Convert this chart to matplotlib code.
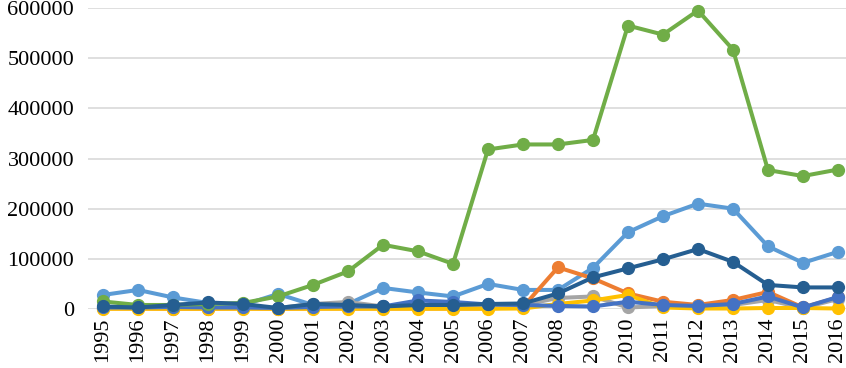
import matplotlib.pyplot as plt

plt.rcParams['font.family'] = ['Liberation Serif', 'DejaVu Serif']

years = [str(y) for y in range(1995, 2017)]

s1_lightblue = [28000, 38000, 23000, 12000, 8000, 30000, 8000, 10000, 42000, 33000, 25000,
                50000, 38000, 38000, 82000, 153000, 185000, 210000, 200000, 125000, 92000, 114000]
s2_orange = [1000, 1000, 500, 500, 1000, 500, 1000, 1000, 1000, 1000, 1000,
             1000, 4000, 83000, 61000, 31000, 14500, 8000, 18000, 34000, 3000, 23000]
s3_gray = [2000, 2000, 3000, 2000, 3000, 2000, 10000, 14000, 5000, 6000, 5000,
           6000, 8000, 22000, 25000, 3000, 6000, 5000, 8000, 18000, 2000, 20000]
s4_yellow = [500, 500, 500, 500, 500, 500, 500, 500, 500, 500, 500,
             500, 1000, 10000, 17000, 28000, 3000, 1000, 1000, 2000, 2000, 1000]
s5_blue = [3000, 3000, 4000, 3000, 3000, 2000, 4000, 5000, 5000, 17000, 14000,
           9000, 8000, 6000, 5000, 14500, 8000, 6000, 10000, 25000, 3000, 24000]
s6_green = [15000, 8000, 8000, 10000, 12000, 25000, 48000, 75000, 128000, 115000, 90000,
            318000, 328000, 328000, 337000, 565000, 547000, 595000, 517000, 277000, 265000, 278000]
s7_darkblue = [5000, 3000, 8000, 13000, 10000, 2000, 10000, 8000, 5000, 8000, 8000,
               10000, 11000, 31000, 63000, 81000, 99000, 119500, 94000, 48000, 43000, 43000]

series = [s1_lightblue, s2_orange, s3_gray, s4_yellow, s5_blue, s6_green, s7_darkblue]
colors = ['#5B9BD5', '#ED7D31', '#A5A5A5', '#FFC000', '#4472C4', '#70AD47', '#255E91']

fig = plt.figure(figsize=(8.46, 3.68), dpi=100)
ax = fig.add_axes([88 / 846, 1 - 309 / 368, (846 - 88) / 846, 301 / 368])

x = range(len(years))
for vals, c in zip(series, colors):
    ax.plot(x, vals, color=c, lw=2.9, marker='o', ms=8.5, mec=c, mfc=c,
            solid_capstyle='round', solid_joinstyle='round', clip_on=False)

ax.set_xlim(-0.43, 21.23)
ax.set_ylim(0, 600000)
ax.set_yticks(range(0, 600001, 100000))
ax.set_xticks(list(x))
ax.set_xticklabels(years, rotation=90)
ax.tick_params(axis='both', length=0, labelsize=16)
ax.tick_params(axis='x', pad=6)
ax.tick_params(axis='y', pad=10)
for s in ax.spines.values():
    s.set_visible(False)
ax.yaxis.grid(True, color='#D9D9D9', lw=1.2)
ax.set_axisbelow(True)

fig.savefig('out.png', dpi=100)
